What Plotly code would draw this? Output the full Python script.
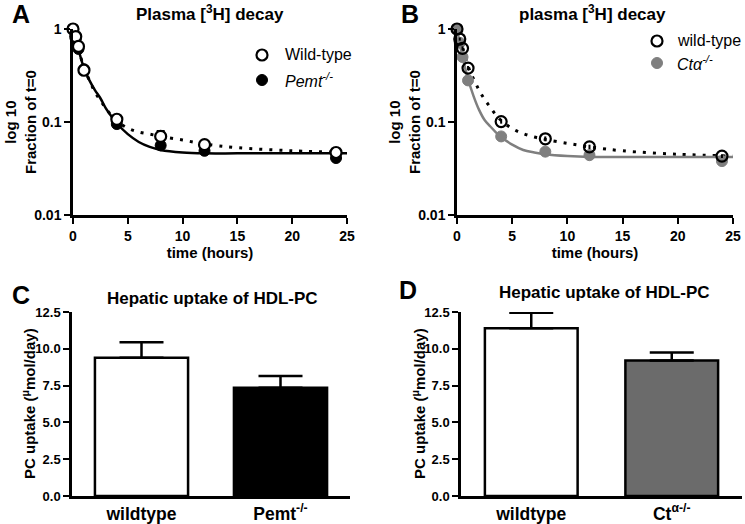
import plotly.graph_objects as go

# ---------------- data ----------------
time_pts = [0, 0.25, 0.5, 1, 4, 8, 12, 24]
A_wt = [1.0, 0.83, 0.65, 0.36, 0.107, 0.070, 0.057, 0.047]
A_wt_err = [0, 0.02, 0.02, 0.02, 0.010, 0.010, 0.004, 0.004]
A_pemt = [1.0, 0.78, 0.61, 0.37, 0.095, 0.056, 0.049, 0.041]
A_pemt_err = [0, 0.02, 0.02, 0.02, 0.005, 0.004, 0.003, 0.003]

B_wt = [1.0, 0.78, 0.62, 0.38, 0.101, 0.066, 0.054, 0.043]
B_wt_err = [0, 0.03, 0.03, 0.02, 0.005, 0.004, 0.003, 0.002]
B_ct = [1.0, 0.71, 0.50, 0.28, 0.070, 0.048, 0.044, 0.038]
B_ct_err = [0, 0.02, 0.02, 0.01, 0.003, 0.003, 0.002, 0.002]

# fitted curves
fit_t = [0, 0.25, 0.5, 1, 1.5, 2, 2.5, 3, 3.5, 4, 5, 6, 7, 8, 10, 12, 15, 20, 25]
A_fit_pemt = [1.0, 0.76, 0.60, 0.38, 0.28, 0.22, 0.18, 0.14, 0.115, 0.097, 0.074, 0.061, 0.054, 0.050, 0.047, 0.046, 0.046, 0.046, 0.046]
A_fit_wt = [1.0, 0.78, 0.62, 0.38, 0.28, 0.21, 0.17, 0.14, 0.118, 0.102, 0.086, 0.078, 0.074, 0.070, 0.064, 0.058, 0.053, 0.049, 0.047]
B_fit_ct = [1.0, 0.70, 0.50, 0.29, 0.19, 0.135, 0.105, 0.090, 0.078, 0.069, 0.057, 0.050, 0.047, 0.045, 0.043, 0.042, 0.042, 0.042, 0.042]
B_fit_wt = [1.0, 0.80, 0.64, 0.40, 0.29, 0.22, 0.175, 0.145, 0.12, 0.104, 0.085, 0.075, 0.069, 0.065, 0.059, 0.054, 0.049, 0.045, 0.043]

C_groups = ["wildtype", "Pemt<sup>-/-</sup>"]
C_values = [9.4, 7.35]
C_err = [1.05, 0.8]
D_groups = ["wildtype", "Ct<sup>α-/-</sup>"]
D_values = [11.4, 9.2]
D_err = [1.05, 0.55]

x_ticks = [0, 5, 10, 15, 20, 25]
log_ticks = [0.01, 0.1, 1]
log_labels = ["0.01", "0.1", "1"]
bar_ticks = [0, 2.5, 5, 7.5, 10, 12.5]
bar_labels = ["0.0", "2.5", "5.0", "7.5", "10.0", "12.5"]

GREY = "#7f7f7f"
FONT = "Liberation Sans"
W, H = 745, 524

fig = go.Figure()

def px_x(a, b):
    return [a / W, b / W]

def px_y(top, bottom):
    return [(H - bottom) / H, (H - top) / H]

# ---- Panel A ----
fig.add_trace(go.Scatter(x=fit_t, y=A_fit_wt, mode="lines", line=dict(color="black", width=3, dash="3px,7px", shape="spline"),
                         xaxis="x", yaxis="y", showlegend=False))
fig.add_trace(go.Scatter(x=fit_t, y=A_fit_pemt, mode="lines", line=dict(color="black", width=2.5, shape="spline"),
                         xaxis="x", yaxis="y", showlegend=False))
fig.add_trace(go.Scatter(x=time_pts, y=A_pemt, mode="markers", marker=dict(color="black", size=11, line=dict(color="black", width=1)),
                         error_y=dict(type="data", array=A_pemt_err, arrayminus=[0]*8, color="black", thickness=2, width=4),
                         cliponaxis=False, xaxis="x", yaxis="y", showlegend=False))
fig.add_trace(go.Scatter(x=time_pts, y=A_wt, mode="markers", marker=dict(color="white", size=11, line=dict(color="black", width=2.2)),
                         error_y=dict(type="data", array=A_wt_err, arrayminus=[0]*8, color="black", thickness=2, width=4),
                         cliponaxis=False, xaxis="x", yaxis="y", showlegend=False))

# ---- Panel B ----
fig.add_trace(go.Scatter(x=fit_t, y=B_fit_wt, mode="lines", line=dict(color="black", width=3, dash="3px,7px", shape="spline"),
                         xaxis="x2", yaxis="y2", showlegend=False))
fig.add_trace(go.Scatter(x=fit_t, y=B_fit_ct, mode="lines", line=dict(color=GREY, width=2.5, shape="spline"),
                         xaxis="x2", yaxis="y2", showlegend=False))
fig.add_trace(go.Scatter(x=time_pts, y=B_ct, mode="markers", marker=dict(color=GREY, size=11, line=dict(color=GREY, width=1)),
                         error_y=dict(type="data", array=B_ct_err, arrayminus=[0]*8, color=GREY, thickness=2, width=4),
                         cliponaxis=False, xaxis="x2", yaxis="y2", showlegend=False))
fig.add_trace(go.Scatter(x=time_pts, y=B_wt, mode="markers", marker=dict(color="rgba(255,255,255,0)", size=11, line=dict(color="black", width=2.2)),
                         error_y=dict(type="data", array=B_wt_err, arrayminus=B_wt_err, color="black", thickness=2, width=0),
                         cliponaxis=False, xaxis="x2", yaxis="y2", showlegend=False))

# ---- Panel C ----
fig.add_trace(go.Bar(x=C_groups, y=C_values, width=0.67,
                     marker=dict(color=["white", "black"], line=dict(color="black", width=2.5)),
                     error_y=dict(type="data", array=C_err, arrayminus=[0, 0], color="black", thickness=2.5, width=22),
                     xaxis="x3", yaxis="y3", showlegend=False))
# ---- Panel D ----
fig.add_trace(go.Bar(x=D_groups, y=D_values, width=0.66,
                     marker=dict(color=["white", "#6b6b6b"], line=dict(color="black", width=2.5)),
                     error_y=dict(type="data", array=D_err, arrayminus=[0, 0], color="black", thickness=2.5, width=22),
                     xaxis="x4", yaxis="y4", showlegend=False))

def tfont(size, bold=True):
    return dict(family=FONT, size=size, color="black", weight="bold" if bold else "normal")

axis_common = dict(showline=True, linecolor="black", linewidth=2.5, ticks="outside", ticklen=6, tickwidth=2,
                   tickcolor="black", showgrid=False, zeroline=False, automargin=False)
cat_axis = dict(showline=True, linecolor="black", linewidth=2.5, ticks="", showgrid=False, zeroline=False,
                automargin=False, tickfont=tfont(17.5))

fig.update_layout(
    width=W, height=H, margin=dict(l=0, r=0, t=0, b=0, autoexpand=False),
    plot_bgcolor="white", paper_bgcolor="white",
    font=dict(family=FONT, color="black", size=14),
    xaxis=dict(domain=px_x(73, 347), range=[0, 25], tickvals=x_ticks, anchor="y", tickfont=tfont(14),
               title=dict(text="time (hours)", font=tfont(15), standoff=4), **axis_common),
    yaxis=dict(domain=px_y(29, 215), type="log", range=[-2, 0], tickvals=log_ticks, ticktext=log_labels,
               anchor="x", tickfont=tfont(14), **axis_common),
    xaxis2=dict(domain=px_x(457, 733), range=[0, 25], tickvals=x_ticks, anchor="y2", tickfont=tfont(14),
                title=dict(text="time (hours)", font=tfont(15), standoff=4), **axis_common),
    yaxis2=dict(domain=px_y(29, 215), type="log", range=[-2, 0], tickvals=log_ticks, ticktext=log_labels,
                anchor="x2", tickfont=tfont(14), **axis_common),
    xaxis3=dict(domain=px_x(72, 350), range=[-0.5, 1.5], anchor="y3", **cat_axis),
    yaxis3=dict(domain=px_y(312, 496), range=[0, 12.5], tickvals=bar_ticks, ticktext=bar_labels, anchor="x3",
                tickfont=tfont(13), **axis_common),
    xaxis4=dict(domain=px_x(461, 742), range=[-0.5, 1.5], anchor="y4", **cat_axis),
    yaxis4=dict(domain=px_y(312, 496), range=[0, 12.5], tickvals=bar_ticks, ticktext=bar_labels, anchor="x4",
                tickfont=tfont(13), **axis_common),
)

def ann(text, x, y, size, bold=True, angle=0, xanchor="center"):
    fig.add_annotation(text=text, x=x / W, y=1 - y / H, xref="paper", yref="paper", showarrow=False,
                       xanchor=xanchor, yanchor="middle", textangle=angle,
                       font=dict(family=FONT, size=size, color="black", weight="bold" if bold else "normal"))

# panel letters
ann("A", 21, 14, 25)
ann("B", 410, 14, 25)
ann("C", 21, 295, 25)
ann("D", 408, 290, 25)
# titles
ann("Plasma [<sup>3</sup>H] decay", 210, 13, 17)
ann("plasma [<sup>3</sup>H] decay", 592, 13, 17)
ann("Hepatic uptake of HDL-PC", 212, 298, 17)
ann("Hepatic uptake of HDL-PC", 604, 292, 17)
# y titles
ann("log 10<br>Fraction of t=0", 20, 122, 15, angle=-90)
ann("log 10<br>Fraction of t=0", 404, 122, 15, angle=-90)
ann("PC uptake (<sup>μ</sup>mol/day)", 28, 404, 15, angle=-90)
ann("PC uptake (<sup>μ</sup>mol/day)", 418, 404, 15, angle=-90)

# legends
ann("Wild-type", 283, 55, 16, bold=False, xanchor="left")
ann("<i>Pemt</i><sup><i>-/-</i></sup>", 283, 80, 16, bold=False, xanchor="left")
ann("wild-type", 675, 41, 16, bold=False, xanchor="left")
ann("<i>Ctα</i><sup><i>-/-</i></sup>", 675, 63, 16, bold=False, xanchor="left")

def circle(cx, cy, fill, line):
    r = 5.5
    fig.add_shape(type="circle", xref="paper", yref="paper",
                  x0=(cx - r) / W, x1=(cx + r) / W, y0=1 - (cy + r) / H, y1=1 - (cy - r) / H,
                  fillcolor=fill, line=dict(color=line, width=2.2 if fill == "white" else 1))

circle(262, 55, "white", "black")
circle(262, 80, "black", "black")
circle(657, 41, "white", "black")
circle(657, 63, GREY, GREY)

fig.write_html("out.html", config={"displayModeBar": False},
               post_script="document.body.style.margin='0';document.body.style.overflow='hidden';")
